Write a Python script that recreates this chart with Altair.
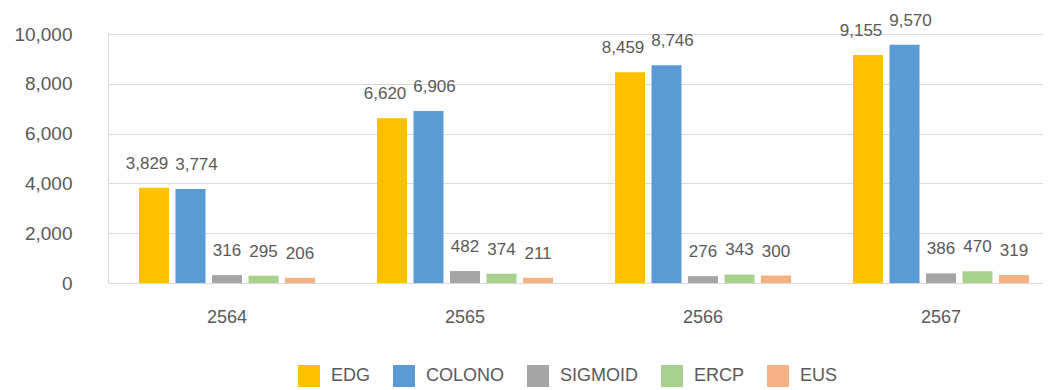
import altair as alt
import pandas as pd

years = ["2564", "2565", "2566", "2567"]
series = ["EDG", "COLONO", "SIGMOID", "ERCP", "EUS"]
edg = [3829, 6620, 8459, 9155]
colono = [3774, 6906, 8746, 9570]
sigmoid = [316, 482, 276, 386]
ercp = [295, 374, 343, 470]
eus = [206, 211, 300, 319]
colors = ["#FFC000", "#5B9BD5", "#A5A5A5", "#A9D18E", "#F4B183"]
y_ticks = [0, 2000, 4000, 6000, 8000, 10000]

rows = []
for s, vals in zip(series, [edg, colono, sigmoid, ercp, eus]):
    for yr, v in zip(years, vals):
        rows.append({"year": yr, "series": s, "value": v})
df = pd.DataFrame(rows)

FONT = "Liberation Sans"
GRAY = "#595959"
GRID = "#D9D9D9"

x_enc = alt.X(
    "year:N", sort=years, title=None,
    scale=alt.Scale(range=[10, 962], paddingInner=0, paddingOuter=0),
    axis=alt.Axis(labelAngle=0, domain=False, ticks=False, labelPadding=25,
                  labelFontSize=18, labelColor=GRAY, labelFont=FONT, grid=False),
)
xoff_enc = alt.XOffset("series:N", sort=series,
                       scale=alt.Scale(paddingInner=0.178, paddingOuter=0.85))
y_scale = alt.Scale(domain=[0, 10000], nice=False)

bars = alt.Chart(df).mark_bar().encode(
    x=x_enc,
    xOffset=xoff_enc,
    y=alt.Y("value:Q", title=None, scale=y_scale,
            axis=alt.Axis(values=y_ticks, format=",d", orient="left", domain=False,
                          ticks=False, labelPadding=26, gridColor=GRID,
                          gridWidth=1, labelFontSize=19, labelColor=GRAY,
                          labelFont=FONT)),
    color=alt.Color(
        "series:N", sort=series,
        scale=alt.Scale(domain=series, range=colors),
        legend=alt.Legend(title=None, orient="none", legendX=200, legendY=331,
                          direction="horizontal", symbolType="square",
                          symbolSize=484, symbolStrokeWidth=0, labelFontSize=18,
                          labelOffset=11, columnPadding=22, labelColor=GRAY,
                          labelFont=FONT),
    ),
)


def label_layer(filter_expr, dx):
    return alt.Chart(df).transform_filter(filter_expr).mark_text(
        baseline="bottom", dy=-15, dx=dx, fontSize=17, color=GRAY, font=FONT
    ).encode(
        x=x_enc,
        xOffset=xoff_enc,
        y=alt.Y("value:Q", title=None, scale=y_scale,
                axis=alt.Axis(orient="left", offset=-10, domain=True,
                              domainColor=GRID, ticks=False, labels=False,
                              grid=False, values=y_ticks)),
        text=alt.Text("value:Q", format=",d"),
    )


lab_edg = label_layer(alt.datum.series == "EDG", -7)
lab_col = label_layer(alt.datum.series == "COLONO", 6)
lab_rest = label_layer((alt.datum.series != "EDG") & (alt.datum.series != "COLONO"), 0)

chart = alt.layer(bars, lab_edg, lab_col, lab_rest).resolve_axis(
    y="independent"
).properties(
    width=945, height=249,
    autosize=alt.AutoSizeParams(type="none"),
    padding={"left": 90, "top": 26, "right": 0, "bottom": 104},
).configure_view(stroke=None)

chart.save("out.html", embed_options={"renderer": "svg", "actions": False})
